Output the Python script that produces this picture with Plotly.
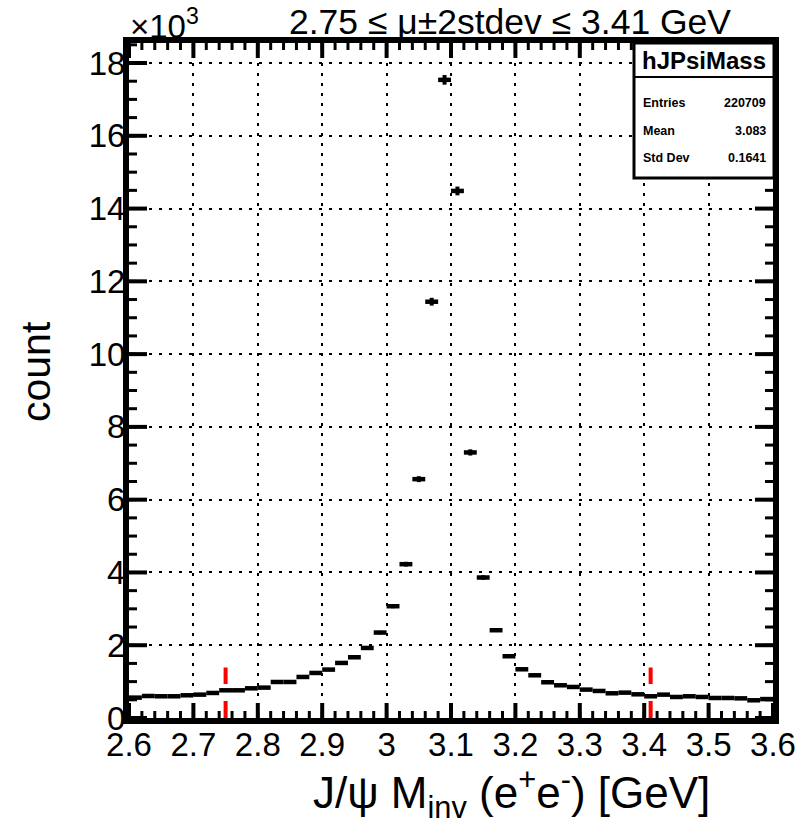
import numpy as np
import plotly.graph_objects as go

# ---------------- data ----------------
bin_low = 2.6
bin_width = 0.02
counts = [560, 605, 597, 597, 624, 642, 688, 761, 761, 816,
          835, 990, 990, 1128, 1238, 1330, 1513, 1669, 1925, 2348,
          3072, 4227, 6564, 11440, 17537, 14484, 7298, 3861, 2412, 1697,
          1339, 1174, 982, 899, 853, 780, 743, 679, 697, 651,
          597, 642, 578, 597, 578, 550, 550, 540, 487, 520]
y_unit = 1000.0          # axis shown in units of 10^3
y_max = 18550
cut_low = 2.75
cut_high = 3.41
cut_line_top = 1390
x_major_ticks = [2.6, 2.7, 2.8, 2.9, 3.0, 3.1, 3.2, 3.3, 3.4, 3.5, 3.6]
y_major_ticks = [0, 2, 4, 6, 8, 10, 12, 14, 16, 18]
x_minor_step = 0.02
y_minor_step = 0.5
stats_name = "hJPsiMass"
stats_labels = ["Entries", "Mean", "Std Dev"]
stats_values = ["220709", "3.083", "0.1641"]

centers = [bin_low + bin_width * (i + 0.5) for i in range(len(counts))]
half_w = [bin_width / 2] * len(counts)
y_vals = [c / y_unit for c in counts]
y_errs = [float(np.sqrt(c)) / y_unit for c in counts]

# ---------------- layout geometry (pixels) ----------------
W, H = 808, 833
L, R, T, B = 129, 773, 43, 718
FONT = "Liberation Sans, Arial, Helvetica, sans-serif"
xr = [2.6, 3.6]
yr = [0, y_max / y_unit]
x_per_px = (xr[1] - xr[0]) / (R - L)
y_per_px = (yr[1] - yr[0]) / (B - T)


def px(x):
    return (x - L) / (R - L)


def py(y):
    return (B - y) / (B - T)


fig = go.Figure()
fig.add_trace(go.Scatter(
    x=centers, y=y_vals, mode="markers",
    marker=dict(size=2, color="black"),
    error_x=dict(type="data", array=half_w, width=0, thickness=4.5, color="black"),
    error_y=dict(type="data", array=y_errs, width=0, thickness=4, color="black"),
    showlegend=False, hoverinfo="x+y",
))

grid_dash = "3px,7px"
tick_font = dict(family=FONT, size=33, color="black")

fig.update_layout(
    template="none",
    width=W, height=H, margin=dict(l=L, r=W - R, t=T, b=H - B, pad=0),
    paper_bgcolor="white", plot_bgcolor="white", showlegend=False,
    xaxis=dict(
        range=xr, tickmode="linear", tick0=2.6, dtick=0.1, ticks="",
        showline=True, linewidth=6, linecolor="black", mirror=True,
        showgrid=True, gridcolor="black", gridwidth=2, griddash=grid_dash,
        tickfont=tick_font, ticklabelstandoff=-8, zeroline=False,
    ),
    yaxis=dict(
        range=yr, tickmode="linear", tick0=0, dtick=2, ticks="",
        showline=True, linewidth=6, linecolor="black", mirror=True,
        showgrid=True, gridcolor="black", gridwidth=2, griddash=grid_dash,
        tickfont=tick_font, ticklabelstandoff=-9, zeroline=False,
    ),
)

shapes = []
# ---- tick marks as shapes in axis coordinates (bottom/top, left/right) ----
x_minor_ticks = [round(v, 4) for v in np.arange(xr[0], xr[1] + 1e-9, x_minor_step)]
y_minor_ticks = [round(v, 4) for v in np.arange(yr[0], yr[1] + 1e-9, y_minor_step)]


def add_x_ticks(vals, len_px, wdt):
    d = len_px * y_per_px
    for v in vals:
        for y0, y1 in ((yr[0], yr[0] + d), (yr[1], yr[1] - d)):
            shapes.append(dict(type="line", xref="x", yref="y", x0=v, x1=v, y0=y0, y1=y1,
                               line=dict(color="black", width=wdt), layer="above"))


def add_y_ticks(vals, len_px, wdt):
    d = len_px * x_per_px
    for v in vals:
        for x0, x1 in ((xr[0], xr[0] + d), (xr[1], xr[1] - d)):
            shapes.append(dict(type="line", xref="x", yref="y", x0=x0, x1=x1, y0=v, y1=v,
                               line=dict(color="black", width=wdt), layer="above"))


add_x_ticks(x_minor_ticks, 7, 3)
add_x_ticks(x_major_ticks, 15, 4)
add_y_ticks(y_minor_ticks, 8, 3)
add_y_ticks(y_major_ticks, 18, 4)

for xc in (cut_low, cut_high):
    shapes.append(dict(type="line", xref="x", yref="y", x0=xc, x1=xc, y0=0, y1=cut_line_top / y_unit,
                       line=dict(color="#ff0000", width=4, dash="17px,17px"), layer="above"))
# stats box
shapes.append(dict(type="rect", xref="paper", yref="paper",
                   x0=px(634), x1=px(774), y0=py(178), y1=py(43),
                   fillcolor="white", line=dict(color="black", width=3), layer="above"))
shapes.append(dict(type="line", xref="paper", yref="paper",
                   x0=px(634), x1=px(774), y0=py(77), y1=py(77),
                   line=dict(color="black", width=2), layer="above"))

ann = []
ann.append(dict(text="<b>" + stats_name + "</b>", xref="paper", yref="paper",
                x=px(704), y=py(60), xanchor="center", yanchor="middle", showarrow=False,
                font=dict(family=FONT, size=24, color="black")))
row_y = [103, 131, 158]
for lab, val, yy in zip(stats_labels, stats_values, row_y):
    ann.append(dict(text="<b>" + lab + "</b>", xref="paper", yref="paper",
                    x=px(641), y=py(yy), xanchor="left", yanchor="middle", showarrow=False,
                    font=dict(family=FONT, size=12.5, color="black")))
    ann.append(dict(text="<b>" + val + "</b>", xref="paper", yref="paper",
                    x=px(768), y=py(yy), xanchor="right", yanchor="middle", showarrow=False,
                    font=dict(family=FONT, size=12.5, color="black")))
ann.append(dict(text="2.75 ≤ μ±2stdev ≤ 3.41 GeV", xref="paper", yref="paper",
                x=px(510), y=py(22), xanchor="center", yanchor="middle", showarrow=False,
                font=dict(family=FONT, size=35.5, color="black")))
ann.append(dict(text="×10<sup>3</sup>", xref="paper", yref="paper",
                x=px(128), y=py(24), xanchor="left", yanchor="middle", showarrow=False,
                font=dict(family=FONT, size=33, color="black")))
ann.append(dict(text="J/ψ M<sub>inv</sub> (e<sup>+</sup>e<sup>-</sup>) [GeV]", xref="paper", yref="paper",
                x=px(712), y=py(793), xanchor="right", yanchor="middle", showarrow=False,
                font=dict(family=FONT, size=44, color="black")))
ann.append(dict(text="count", xref="paper", yref="paper", textangle=-90,
                x=px(36), y=py(372), xanchor="center", yanchor="middle", showarrow=False,
                font=dict(family=FONT, size=41, color="black")))

fig.update_layout(shapes=shapes, annotations=ann)
fig.write_html("out.html")
